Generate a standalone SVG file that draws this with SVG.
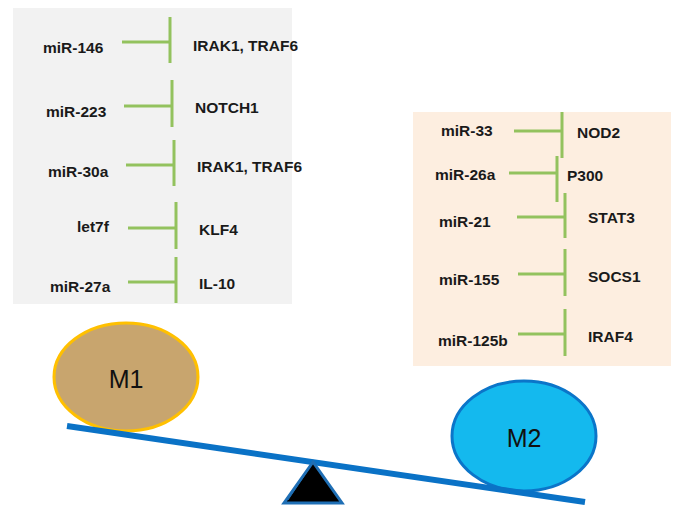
<svg xmlns="http://www.w3.org/2000/svg" width="676" height="506" viewBox="0 0 676 506">
<style>
.t{font-family:"Liberation Sans",Arial,sans-serif;font-weight:bold;font-size:15.5px;fill:#1a1a1a}
.m{font-family:"Liberation Sans",Arial,sans-serif;font-size:25px;fill:#111;text-anchor:middle}
.inh{stroke:#93C25E;stroke-width:3;fill:none}
</style>
<rect width="676" height="506" fill="#fff"/>
<g id="m1-panel">
<rect x="13" y="8" width="279" height="296" fill="#F2F2F2"/>
</g>
<g id="m2-panel">
<rect x="413" y="112" width="258" height="254" fill="#FDEEE0"/>
</g>
<g id="connectors">
<path class="inh" d="M122 42H170M170 17V63"/>
<path class="inh" d="M124 106H172M172 80V127"/>
<path class="inh" d="M126 165H174M174 140V186"/>
<path class="inh" d="M128 228H176M176 202V249"/>
<path class="inh" d="M128 282H176M176 257V303"/>
<path class="inh" d="M514 131H562M562 112V158"/>
<path class="inh" d="M509 173H557M557 156V202"/>
<path class="inh" d="M517 217H565M565 193V238"/>
<path class="inh" d="M518 274H565M565 249V296"/>
<path class="inh" d="M518 334H565M565 309V356"/>
</g>
<g id="labels-m1">
<text class="t" x="43" y="53">miR-146</text>
<text class="t" x="193" y="51">IRAK1, TRAF6</text>
<text class="t" x="46" y="117">miR-223</text>
<text class="t" x="195" y="113">NOTCH1</text>
<text class="t" x="48" y="177">miR-30a</text>
<text class="t" x="197" y="172">IRAK1, TRAF6</text>
<text class="t" x="77" y="232">let7f</text>
<text class="t" x="199" y="235">KLF4</text>
<text class="t" x="50" y="292">miR-27a</text>
<text class="t" x="199" y="289">IL-10</text>
</g>
<g id="labels-m2">
<text class="t" x="441" y="136">miR-33</text>
<text class="t" x="577" y="138">NOD2</text>
<text class="t" x="435" y="180">miR-26a</text>
<text class="t" x="567" y="181">P300</text>
<text class="t" x="439" y="227">miR-21</text>
<text class="t" x="588" y="223">STAT3</text>
<text class="t" x="439" y="285">miR-155</text>
<text class="t" x="588" y="282">SOCS1</text>
<text class="t" x="438" y="346">miR-125b</text>
<text class="t" x="588" y="342">IRAF4</text>
</g>
<g id="M1">
<ellipse cx="126" cy="377" rx="72" ry="54" fill="#C8A56E" stroke="#FFC000" stroke-width="3"/>
<text class="m" x="126" y="388">M1</text>
</g>
<g id="M2">
<ellipse cx="524" cy="436" rx="72" ry="55" fill="#14B9EE" stroke="#0B75C9" stroke-width="3"/>
<text class="m" x="524" y="447">M2</text>
</g>
<g id="seesaw">
<line x1="67" y1="426" x2="585" y2="502" stroke="#0A72C6" stroke-width="6"/>
<polygon points="313,462 284,503 342,503" fill="#000" stroke="#1F6FB5" stroke-width="3" stroke-linejoin="miter"/>
<line x1="310" y1="467" x2="288" y2="500" stroke="#1F6FB5" stroke-width="1"/>
</g>
</svg>
